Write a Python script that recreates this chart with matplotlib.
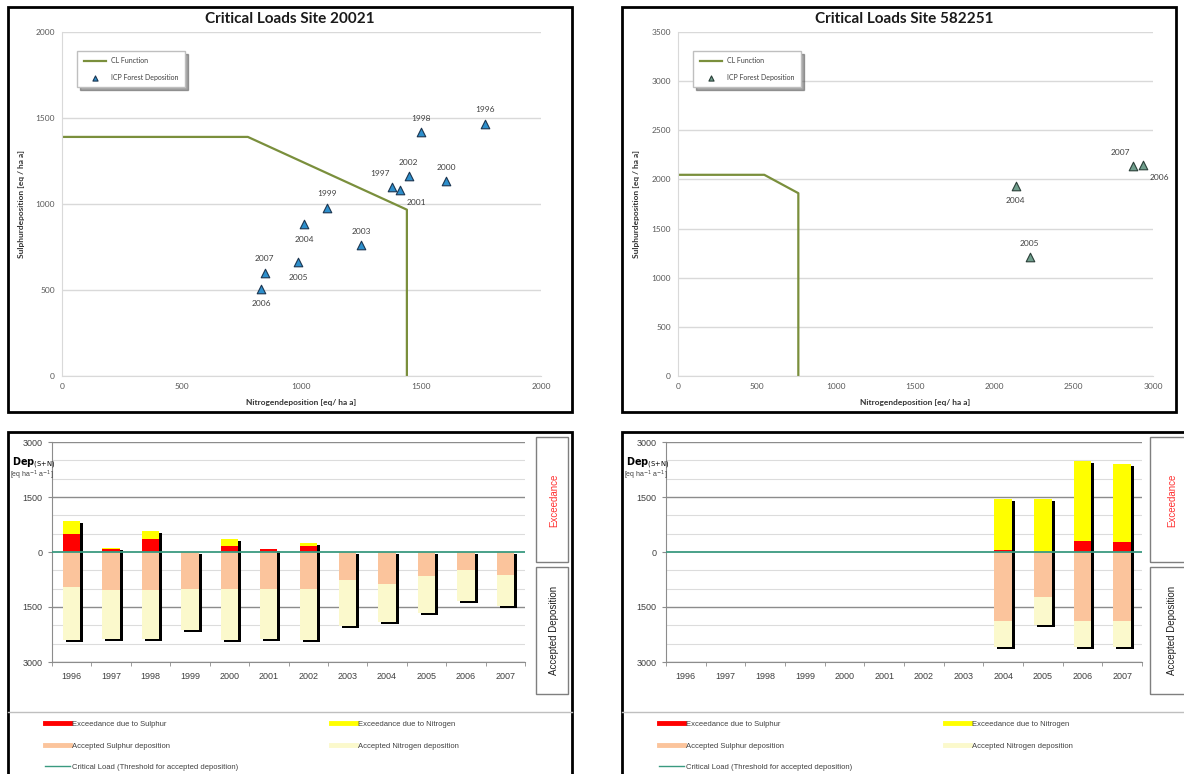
import matplotlib
matplotlib.use('Agg')
import matplotlib.pyplot as plt
import matplotlib.transforms as mtransforms
from matplotlib.lines import Line2D
from matplotlib.patches import Rectangle
import numpy as np

# ---------------- data: site 20021 ----------------
cl1_n = [0, 776, 1440, 1440]
cl1_s = [1390, 1390, 967, 0]
years1 = ['1996', '1997', '1998', '1999', '2000', '2001',
          '2002', '2003', '2004', '2005', '2006', '2007']
dep1_n = [1767, 1379, 1501, 1107, 1604, 1411, 1447, 1250, 1012, 985, 832, 847]
dep1_s = [1467, 1099, 1419, 979, 1134, 1084, 1161, 760, 882, 661, 508, 601]
lab1_pos = ['above', 'aboveleft', 'above', 'above', 'above', 'belowright',
            'above', 'above', 'below', 'below', 'below', 'above']

# ---------------- data: site 582251 ----------------
cl2_n = [0, 545, 760, 760]
cl2_s = [2047, 2047, 1860, 0]
years2 = ['2004', '2005', '2006', '2007']
dep2_n = [2134, 2222, 2934, 2875]
dep2_s = [1936, 1209, 2149, 2132]
lab2_pos = ['below', 'above', 'belowright', 'aboveleft']

# ---------------- exceedance bars ----------------
bar_years = ['1996', '1997', '1998', '1999', '2000', '2001',
             '2002', '2003', '2004', '2005', '2006', '2007']
ex_s1 = [500, 90, 345, 0, 164, 85, 155, 0, 0, 0, 0, 0]
ex_n1 = [336, 15, 237, 0, 180, 10, 81, 0, 0, 0, 0, 0]
acc_s1 = [955, 1045, 1045, 1000, 1000, 1018, 1018, 773, 882, 655, 500, 636]
acc_n1 = [1440, 1325, 1325, 1126, 1395, 1352, 1381, 1235, 1017, 999, 835, 827]

ex_s2 = [0, 0, 0, 0, 0, 0, 0, 0, 64, 0, 291, 273]
ex_n2 = [0, 0, 0, 0, 0, 0, 0, 0, 1391, 1455, 2182, 2136]
acc_s2 = [0, 0, 0, 0, 0, 0, 0, 0, 1891, 1227, 1891, 1891]
acc_n2 = [0, 0, 0, 0, 0, 0, 0, 0, 690, 763, 690, 690]

W, H = 1184, 774
OLIVE = '#7a8f3c'
GRAY_TXT = '#404040'
TEAL = '#3a9a80'
C_EXS, C_EXN = '#ff0000', '#ffff00'
C_ACS, C_ACN = '#fbc49c', '#fbf9cc'
ARIAL = ['Liberation Sans', 'DejaVu Sans']

LABEL_OFF = {'above': (0, 10), 'below': (0, -11), 'aboveleft': (-9, 10),
             'belowright': (12, -9)}

plt.rcParams['font.family'] = ['Lato', 'DejaVu Sans']
fig = plt.figure(figsize=(W / 100, H / 100), dpi=100)


def axes_px(x0, y0, x1, y1):
    return fig.add_axes([x0 / W, 1 - y1 / H, (x1 - x0) / W, (y1 - y0) / H])


def frame(x0, y0, x1, y1, **kw):
    fig.add_artist(Rectangle((x0 / W, 1 - y1 / H), (x1 - x0) / W,
                             (y1 - y0) / H, transform=fig.transFigure,
                             fill=False, **kw))


def ftext(x, y, s, **kw):
    fig.text(x / W, 1 - y / H, s, **kw)


def draw_scatter(ax, cl_n, cl_s, dep_n, dep_s, years, pos, xmax, ymax,
                 face, edge):
    ax.plot(cl_n, cl_s, color=OLIVE, lw=1.6, label='CL Function')
    ax.scatter(dep_n, dep_s, marker='^', s=38, c=face, edgecolors=edge,
               linewidths=0.8, zorder=3, label='ICP Forest Deposition')
    for n, s, yr, p in zip(dep_n, dep_s, years, pos):
        ax.annotate(yr, (n, s), xytext=LABEL_OFF[p], textcoords='offset points',
                    ha='center', va='center', fontsize=6, color=GRAY_TXT)
    ax.set_xlim(0, xmax)
    ax.set_ylim(0, ymax)
    ax.set_xticks(np.arange(0, xmax + 1, 500))
    ax.set_yticks(np.arange(0, ymax + 1, 500))
    ax.grid(axis='y', color='#d9d9d9', lw=1)
    ax.set_axisbelow(True)
    for side in ['top', 'right']:
        ax.spines[side].set_visible(False)
    for side in ['left', 'bottom']:
        ax.spines[side].set_color('#d9d9d9')
    ax.tick_params(length=0, labelsize=6, labelcolor='#595959', pad=5)
    leg = ax.legend(loc='upper left', bbox_to_anchor=(0.025, 0.955),
                    fontsize=5, frameon=True, shadow=True, fancybox=False,
                    edgecolor='#bfbfbf', handlelength=3.2, borderpad=0.9,
                    labelspacing=1.4, markerscale=0.6)
    for t in leg.get_texts():
        t.set_color(GRAY_TXT)


def draw_bars(ax, ex_s, ex_n, acc_s, acc_n):
    x = np.arange(len(bar_years))
    ex_s, ex_n = np.array(ex_s), np.array(ex_n)
    acc_s, acc_n = np.array(acc_s), np.array(acc_n)
    top = ex_s + ex_n
    bottom = -(acc_s + acc_n)
    wid = 0.44
    # drop shadow: same extent, shifted a few pixels right and down
    shadow = mtransforms.offset_copy(ax.transData, fig=fig, x=3, y=-2,
                                     units='dots')
    has = (top - bottom) > 0
    ax.bar(x[has], (top - bottom)[has], bottom=bottom[has], width=wid,
           color='black', transform=shadow, zorder=2)
    ax.bar(x, ex_s, width=wid, color=C_EXS, zorder=3)
    ax.bar(x, ex_n, bottom=ex_s, width=wid, color=C_EXN, zorder=3)
    ax.bar(x, -acc_s, width=wid, color=C_ACS, zorder=3)
    ax.bar(x, -acc_n, bottom=-acc_s, width=wid, color=C_ACN, zorder=3)
    ax.axhline(0, color=TEAL, lw=1.3, zorder=4)
    for v in np.arange(-3000, 3001, 500):
        if v == 0:
            continue
        major = v % 1500 == 0
        ax.axhline(v, color='#8c8c8c' if major else '#dcdcdc',
                   lw=1.0 if major else 0.8, zorder=1)
    ax.set_xlim(-0.5, len(bar_years) - 0.5)
    ax.set_ylim(-3000, 3000)
    ax.set_yticks([-3000, -1500, 0, 1500, 3000])
    ax.set_yticklabels(['3000', '1500', '0', '1500', '3000'])
    ax.set_xticks(x)
    ax.set_xticklabels(bar_years)
    ax.set_xticks(np.arange(-0.5, len(bar_years), 1), minor=True)
    for side in ['top', 'right']:
        ax.spines[side].set_visible(False)
    for side in ['left', 'bottom']:
        ax.spines[side].set_color('#8c8c8c')
    ax.tick_params(axis='x', which='major', length=0, pad=7,
                   labelsize=6.5, labelcolor='#404040')
    ax.tick_params(axis='x', which='minor', length=3, color='#8c8c8c')
    ax.tick_params(axis='y', length=3, color='#8c8c8c', pad=4,
                   labelsize=6.5, labelcolor='#404040')
    for lab in ax.get_xticklabels() + ax.get_yticklabels():
        lab.set_fontfamily(ARIAL)


def bar_decor(px0, px1, box_x0, box_x1):
    ftext(px0 + 4, 463, r'$\mathbf{Dep}_{\mathrm{(S{+}N)}}$', fontsize=7,
          va='center', ha='left', color='black')
    ftext(px0 + 2, 475, r'[eq ha$^{-1}$ a$^{-1}$]', fontsize=5,
          va='center', ha='left', color=GRAY_TXT, family=ARIAL)
    frame(box_x0, 437, box_x1, 562, lw=1, ec='#7f7f7f')
    frame(box_x0, 567, box_x1, 694, lw=1, ec='#7f7f7f')
    ftext((box_x0 + box_x1) / 2 + 2, 500, 'Exceedance', rotation=90,
          ha='center', va='center', fontsize=7, color='#ff3030', family=ARIAL)
    ftext((box_x0 + box_x1) / 2 + 2, 630, 'Accepted Deposition', rotation=90,
          ha='center', va='center', fontsize=7, color='#202020', family=ARIAL)
    fig.add_artist(Line2D([px0 / W, px1 / W], [1 - 712 / H, 1 - 712 / H],
                          transform=fig.transFigure, color='#bfbfbf', lw=1))
    col1 = [Line2D([], [], color=C_EXS, lw=3.5),
            Line2D([], [], color=C_ACS, lw=3.5),
            Line2D([], [], color=TEAL, lw=1)]
    col2 = [Line2D([], [], color=C_EXN, lw=3.5),
            Line2D([], [], color=C_ACN, lw=3.5)]
    names1 = ['Exceedance due to Sulphur', 'Accepted Sulphur deposition',
              'Critical Load (Threshold for accepted deposition)']
    names2 = ['Exceedance due to Nitrogen', 'Accepted Nitrogen deposition']
    for handles, names, lx in [(col1, names1, px0 + 33),
                               (col2, names2, px0 + 319)]:
        leg = fig.legend(handles, names, loc='upper left',
                         bbox_to_anchor=(lx / W, 1 - 717 / H),
                         frameon=False, handlelength=3.3,
                         handletextpad=0.3, labelspacing=1.85, borderpad=0,
                         prop={'family': ARIAL, 'size': 5.5})
        for t in leg.get_texts():
            t.set_color(GRAY_TXT)


# ---------------- top left ----------------
ax1 = axes_px(62, 32, 541, 376)
draw_scatter(ax1, cl1_n, cl1_s, dep1_n, dep1_s, years1, lab1_pos, 2000, 2000,
             '#2d8fcc', '#1b3550')
ftext(290, 19, 'Critical Loads Site 20021', ha='center', va='center',
      fontsize=11, fontweight='bold', color='#1a1a1a')
ftext(301, 402, 'Nitrogendeposition [eq/ ha a]', ha='center', va='center',
      fontsize=6, fontweight='bold', color='#333333')
ftext(22, 204, 'Sulphurdeposition [eq / ha a]', ha='center', va='center',
      fontsize=6, fontweight='bold', rotation=90, color='#333333')
frame(8, 7, 572, 412, lw=2, ec='black')

# ---------------- top right ----------------
ax2 = axes_px(678, 32, 1153, 376)
draw_scatter(ax2, cl2_n, cl2_s, dep2_n, dep2_s, years2, lab2_pos, 3000, 3500,
             '#6f9e8c', '#2a3f38')
ftext(904, 19, 'Critical Loads Site 582251', ha='center', va='center',
      fontsize=11, fontweight='bold', color='#1a1a1a')
ftext(915, 402, 'Nitrogendeposition [eq/ ha a]', ha='center', va='center',
      fontsize=6, fontweight='bold', color='#333333')
ftext(637, 204, 'Sulphurdeposition [eq / ha a]', ha='center', va='center',
      fontsize=6, fontweight='bold', rotation=90, color='#333333')
frame(622, 7, 1176, 412, lw=2, ec='black')

# ---------------- bottom left ----------------
ax3 = axes_px(52, 442, 525, 662)
draw_bars(ax3, ex_s1, ex_n1, acc_s1, acc_n1)
bar_decor(8, 572, 536, 568)
frame(8, 432, 572, 780, lw=2, ec='black')

# ---------------- bottom right ----------------
ax4 = axes_px(666, 442, 1142, 662)
draw_bars(ax4, ex_s2, ex_n2, acc_s2, acc_n2)
bar_decor(622, 1184, 1150, 1190)
frame(622, 432, 1200, 780, lw=2, ec='black')

fig.savefig('out.png', dpi=100)
